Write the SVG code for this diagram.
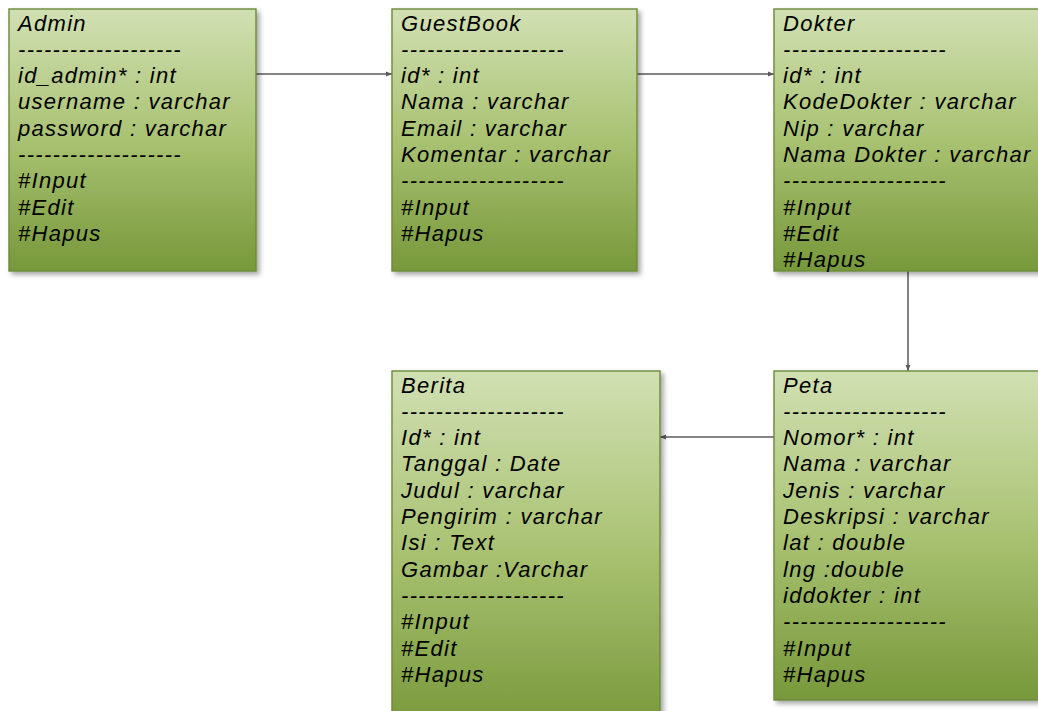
<svg xmlns="http://www.w3.org/2000/svg" width="1038" height="711" viewBox="0 0 1038 711">
<style>
.box{fill:url(#g);stroke:#6b8a37;stroke-width:1.4;filter:url(#sh)}
.t{font-family:"Liberation Sans",Arial,sans-serif;font-style:italic;font-size:22px;letter-spacing:1.3px;fill:#000}
.c{stroke:#5a5a5a;stroke-width:1.5;fill:none;marker-end:url(#a)}
</style>
<defs>
<linearGradient id="g" x1="0" y1="0" x2="0" y2="1">
<stop offset="0" stop-color="#d1e0b3"/>
<stop offset="0.5" stop-color="#a9c272"/>
<stop offset="1" stop-color="#77983a"/>
</linearGradient>
<filter id="sh" x="-10%" y="-10%" width="130%" height="130%">
<feDropShadow dx="3" dy="3" stdDeviation="2.5" flood-color="#000" flood-opacity="0.35"/>
</filter>
<marker id="a" viewBox="0 0 10 10" refX="10" refY="5" markerWidth="6" markerHeight="6" orient="auto" markerUnits="userSpaceOnUse">
<path d="M0,1 L10,5 L0,9 Z" fill="#5a5a5a"/>
</marker>
</defs>
<g id="connectors">
<path class="c" d="M256,74 L392,74"/>
<path class="c" d="M637,74 L774,74"/>
<path class="c" d="M908,271 L908,371"/>
<path class="c" d="M774,437 L660,437"/>
</g>
<g id="admin">
<rect class="box" x="9" y="9" width="247" height="262"/>
<text class="t" x="18" y="30.5">Admin</text>
<text class="t" x="18" y="56.8">-------------------</text>
<text class="t" x="18" y="83.1">id_admin* : int</text>
<text class="t" x="18" y="109.4">username : varchar</text>
<text class="t" x="18" y="135.7">password : varchar</text>
<text class="t" x="18" y="162">-------------------</text>
<text class="t" x="18" y="188.3">#Input</text>
<text class="t" x="18" y="214.6">#Edit</text>
<text class="t" x="18" y="240.9">#Hapus</text>
</g>
<g id="guestbook">
<rect class="box" x="392" y="9" width="245" height="262"/>
<text class="t" x="401" y="30.5">GuestBook</text>
<text class="t" x="401" y="56.8">-------------------</text>
<text class="t" x="401" y="83.1">id* : int</text>
<text class="t" x="401" y="109.4">Nama : varchar</text>
<text class="t" x="401" y="135.7">Email : varchar</text>
<text class="t" x="401" y="162">Komentar : varchar</text>
<text class="t" x="401" y="188.3">-------------------</text>
<text class="t" x="401" y="214.6">#Input</text>
<text class="t" x="401" y="240.9">#Hapus</text>
</g>
<g id="dokter">
<rect class="box" x="774" y="9" width="272" height="262"/>
<text class="t" x="783" y="30.5">Dokter</text>
<text class="t" x="783" y="56.8">-------------------</text>
<text class="t" x="783" y="83.1">id* : int</text>
<text class="t" x="783" y="109.4">KodeDokter : varchar</text>
<text class="t" x="783" y="135.7">Nip : varchar</text>
<text class="t" x="783" y="162">Nama Dokter : varchar</text>
<text class="t" x="783" y="188.3">-------------------</text>
<text class="t" x="783" y="214.6">#Input</text>
<text class="t" x="783" y="240.9">#Edit</text>
<text class="t" x="783" y="267.2">#Hapus</text>
</g>
<g id="berita">
<rect class="box" x="392" y="371" width="268" height="360"/>
<text class="t" x="401" y="392.5">Berita</text>
<text class="t" x="401" y="418.8">-------------------</text>
<text class="t" x="401" y="445.1">Id* : int</text>
<text class="t" x="401" y="471.4">Tanggal : Date</text>
<text class="t" x="401" y="497.7">Judul : varchar</text>
<text class="t" x="401" y="524">Pengirim : varchar</text>
<text class="t" x="401" y="550.3">Isi : Text</text>
<text class="t" x="401" y="576.6">Gambar :Varchar</text>
<text class="t" x="401" y="602.9">-------------------</text>
<text class="t" x="401" y="629.2">#Input</text>
<text class="t" x="401" y="655.5">#Edit</text>
<text class="t" x="401" y="681.8">#Hapus</text>
</g>
<g id="peta">
<rect class="box" x="774" y="371" width="272" height="329"/>
<text class="t" x="783" y="392.5">Peta</text>
<text class="t" x="783" y="418.8">-------------------</text>
<text class="t" x="783" y="445.1">Nomor* : int</text>
<text class="t" x="783" y="471.4">Nama : varchar</text>
<text class="t" x="783" y="497.7">Jenis : varchar</text>
<text class="t" x="783" y="524">Deskripsi : varchar</text>
<text class="t" x="783" y="550.3">lat : double</text>
<text class="t" x="783" y="576.6">lng :double</text>
<text class="t" x="783" y="602.9">iddokter : int</text>
<text class="t" x="783" y="629.2">-------------------</text>
<text class="t" x="783" y="655.5">#Input</text>
<text class="t" x="783" y="681.8">#Hapus</text>
</g>
</svg>
